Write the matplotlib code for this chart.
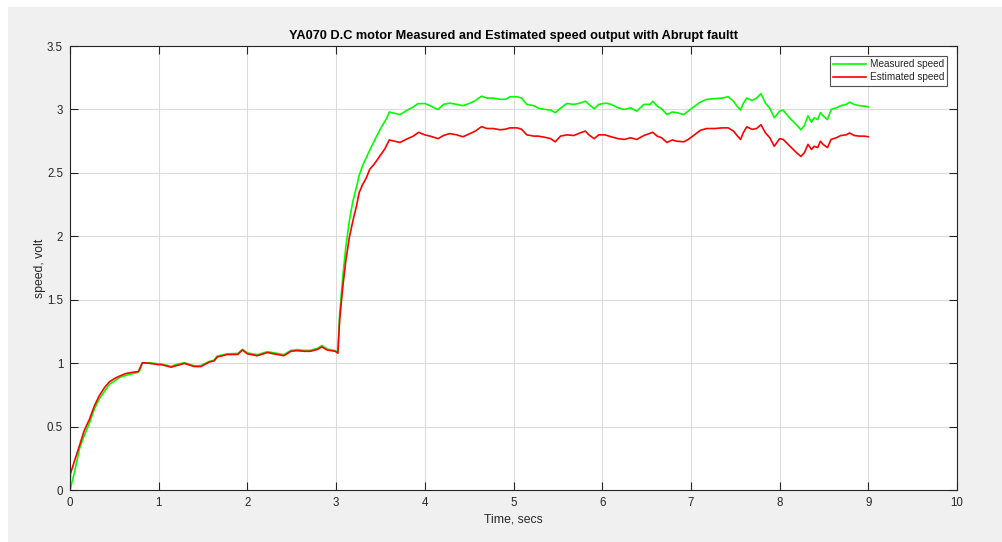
import matplotlib
matplotlib.use("Agg")
import matplotlib.pyplot as plt
from matplotlib.patches import Rectangle

plt.rcParams['font.family'] = ['Liberation Sans', 'DejaVu Sans']

# Measured speed (green)
t_meas = [0.0, 0.05, 0.106, 0.16, 0.22, 0.275, 0.33, 0.39, 0.445, 0.50, 0.56, 0.63,
          0.71, 0.77, 0.79, 0.815, 0.90, 1.0, 1.03, 1.14, 1.19, 1.29, 1.40, 1.475,
          1.57, 1.625, 1.66, 1.775, 1.89, 1.945, 2.0, 2.11, 2.225, 2.34, 2.41, 2.49,
          2.56, 2.64, 2.71, 2.79, 2.84, 2.90, 2.99, 3.02, 3.04, 3.075, 3.11, 3.15,
          3.19, 3.23, 3.26, 3.30, 3.34, 3.40, 3.45, 3.51, 3.57, 3.60, 3.66, 3.72,
          3.79, 3.87, 3.92, 4.0, 4.06, 4.13, 4.15, 4.21, 4.28, 4.36, 4.43, 4.51,
          4.57, 4.64, 4.70, 4.77, 4.85, 4.91, 4.96, 5.04, 5.09, 5.15, 5.23, 5.28,
          5.36, 5.42, 5.47, 5.53, 5.60, 5.68, 5.75, 5.81, 5.85, 5.91, 5.96, 6.04,
          6.10, 6.18, 6.25, 6.32, 6.39, 6.47, 6.54, 6.57, 6.62, 6.67, 6.73, 6.79,
          6.84, 6.92, 6.97, 7.03, 7.11, 7.18, 7.27, 7.35, 7.42, 7.48, 7.52, 7.56,
          7.59, 7.63, 7.69, 7.74, 7.79, 7.84, 7.89, 7.94, 8.0, 8.04, 8.11, 8.19,
          8.24, 8.28, 8.32, 8.36, 8.39, 8.43, 8.46, 8.49, 8.54, 8.58, 8.64, 8.69,
          8.75, 8.79, 8.84, 8.90, 8.955, 9.0]
v_meas = [0.0, 0.14, 0.325, 0.43, 0.53, 0.64, 0.72, 0.78, 0.835, 0.86, 0.89, 0.905,
          0.92, 0.93, 0.95, 1.0, 1.005, 0.995, 0.995, 0.975, 0.99, 1.005, 0.98, 0.982,
          1.015, 1.025, 1.058, 1.075, 1.078, 1.11, 1.082, 1.068, 1.092, 1.078, 1.068, 1.102,
          1.108, 1.102, 1.103, 1.118, 1.14, 1.112, 1.10, 1.09, 1.39, 1.68, 1.92, 2.125,
          2.28, 2.39, 2.48, 2.56, 2.62, 2.71, 2.78, 2.86, 2.93, 2.98, 2.97, 2.96,
          2.99, 3.02, 3.045, 3.047, 3.03, 3.005, 3.0, 3.04, 3.05, 3.04, 3.03, 3.05,
          3.07, 3.105, 3.09, 3.09, 3.08, 3.08, 3.10, 3.10, 3.09, 3.04, 3.03, 3.01,
          3.0, 2.995, 2.975, 3.01, 3.047, 3.04, 3.05, 3.065, 3.04, 3.005, 3.04, 3.05,
          3.04, 3.013, 3.0, 3.013, 2.987, 3.04, 3.04, 3.065, 3.026, 3.005, 2.96, 2.98,
          2.975, 2.96, 2.987, 3.02, 3.06, 3.08, 3.085, 3.09, 3.10, 3.065, 3.026, 2.995,
          3.047, 3.09, 3.07, 3.09, 3.125, 3.05, 3.01, 2.935, 2.987, 2.995, 2.935, 2.88,
          2.84, 2.875, 2.95, 2.90, 2.935, 2.92, 2.975, 2.95, 2.92, 3.0, 3.013, 3.03,
          3.04, 3.058, 3.04, 3.03, 3.026, 3.02]

# Estimated speed (red)
t_est = [0.0, 0.005, 0.05, 0.106, 0.16, 0.22, 0.275, 0.33, 0.39, 0.445, 0.50, 0.56,
         0.63, 0.71, 0.77, 0.79, 0.815, 0.90, 1.0, 1.03, 1.14, 1.19, 1.29, 1.40,
         1.475, 1.57, 1.625, 1.66, 1.775, 1.89, 1.945, 2.0, 2.11, 2.225, 2.34, 2.41,
         2.49, 2.56, 2.64, 2.71, 2.79, 2.84, 2.90, 2.99, 3.02, 3.04, 3.075, 3.11,
         3.15, 3.19, 3.23, 3.26, 3.30, 3.34, 3.38, 3.43, 3.49, 3.55, 3.60, 3.66,
         3.72, 3.79, 3.87, 3.93, 4.0, 4.06, 4.15, 4.21, 4.28, 4.36, 4.43, 4.51,
         4.57, 4.64, 4.70, 4.77, 4.85, 4.91, 4.96, 5.04, 5.09, 5.15, 5.23, 5.28,
         5.36, 5.42, 5.47, 5.53, 5.60, 5.68, 5.75, 5.81, 5.85, 5.91, 5.96, 6.03,
         6.10, 6.18, 6.25, 6.32, 6.39, 6.47, 6.57, 6.62, 6.67, 6.73, 6.79, 6.84,
         6.92, 6.97, 7.03, 7.11, 7.18, 7.27, 7.35, 7.42, 7.48, 7.52, 7.56, 7.59,
         7.63, 7.69, 7.74, 7.79, 7.84, 7.89, 7.94, 8.0, 8.04, 8.11, 8.19, 8.24,
         8.28, 8.32, 8.36, 8.39, 8.43, 8.46, 8.49, 8.54, 8.58, 8.64, 8.69, 8.75,
         8.79, 8.84, 8.90, 8.955, 9.0]
v_est = [0.0, 0.13, 0.23, 0.35, 0.47, 0.56, 0.665, 0.745, 0.81, 0.855, 0.88, 0.90,
         0.92, 0.93, 0.935, 0.965, 1.005, 1.0, 0.99, 0.99, 0.97, 0.98, 1.0, 0.975,
         0.975, 1.01, 1.02, 1.05, 1.07, 1.07, 1.105, 1.075, 1.06, 1.085, 1.07, 1.06,
         1.095, 1.10, 1.095, 1.095, 1.11, 1.13, 1.105, 1.095, 1.08, 1.34, 1.60, 1.81,
         1.995, 2.125, 2.24, 2.345, 2.41, 2.46, 2.53, 2.57, 2.63, 2.69, 2.76, 2.75,
         2.74, 2.765, 2.79, 2.82, 2.80, 2.79, 2.77, 2.795, 2.81, 2.80, 2.785, 2.81,
         2.83, 2.865, 2.85, 2.85, 2.84, 2.845, 2.855, 2.855, 2.845, 2.80, 2.79, 2.79,
         2.78, 2.77, 2.745, 2.79, 2.80, 2.795, 2.815, 2.83, 2.80, 2.77, 2.80, 2.80,
         2.785, 2.77, 2.764, 2.777, 2.764, 2.795, 2.82, 2.79, 2.777, 2.74, 2.76, 2.75,
         2.745, 2.764, 2.795, 2.837, 2.85, 2.85, 2.855, 2.855, 2.83, 2.795, 2.764, 2.816,
         2.864, 2.843, 2.85, 2.88, 2.816, 2.777, 2.71, 2.77, 2.764, 2.716, 2.66, 2.63,
         2.66, 2.725, 2.685, 2.71, 2.70, 2.75, 2.725, 2.70, 2.764, 2.777, 2.795, 2.80,
         2.815, 2.795, 2.79, 2.79, 2.785]

x_ticks = [0, 1, 2, 3, 4, 5, 6, 7, 8, 9, 10]
y_ticks = [0, 0.5, 1, 1.5, 2, 2.5, 3, 3.5]
y_tick_labels = ['0', '0.5', '1', '1.5', '2', '2.5', '3', '3.5']

W, H = 1002, 542
fig = plt.figure(figsize=(W / 100, H / 100), dpi=100, facecolor='white')
# grey window panel
fig.patches.append(Rectangle((8 / W, 0), 1.0, 1 - 7 / H, transform=fig.transFigure,
                             facecolor='#f0f0f0', edgecolor='none', zorder=-10))

ax_l, ax_r, ax_t, ax_b = 70, 957, 46, 490.3
ax = fig.add_axes([ax_l / W, (H - ax_b) / H, (ax_r - ax_l) / W, (ax_b - ax_t) / H])
ax.set_facecolor('white')

ax.plot(t_meas, v_meas, color='#00ff00', lw=1.2, label='Measured speed')
ax.plot(t_est, v_est, color='#ff0000', lw=1.2, label='Estimated speed')

ax.set_xlim(0, 10)
ax.set_ylim(0, 3.5)
ax.set_xticks(x_ticks)
ax.set_yticks(y_ticks)
ax.set_yticklabels(y_tick_labels)
ax.grid(True, color='#dcdcdc', lw=0.8)
ax.set_axisbelow(True)

dark = '#262626'
for s in ax.spines.values():
    s.set_color(dark)
    s.set_linewidth(0.8)
ax.tick_params(direction='in', length=6, width=0.8, color=dark, labelcolor=dark,
               labelsize=8.3, top=True, right=True, pad=5)

ax.set_title('YA070 D.C motor Measured and Estimated speed output with Abrupt faultt',
             fontsize=9.2, fontweight='bold', color='black', pad=5)

ax_w, ax_h = ax_r - ax_l, ax_b - ax_t
ax.set_xlabel('Time, secs', fontsize=8.8, color=dark, va='center')
ax.xaxis.set_label_coords(0.5, -(520 - ax_b) / ax_h)
ax.set_ylabel('speed, volt', fontsize=8.8, color=dark, va='center')
ax.yaxis.set_label_coords(-(ax_l - 40) / ax_w, 0.5)

leg = ax.legend(loc='upper right', fontsize=7.2, frameon=True, fancybox=False,
                borderpad=0.35, handlelength=3.3, handletextpad=0.35, labelspacing=0.3,
                borderaxespad=0.95)
leg.get_frame().set_edgecolor(dark)
leg.get_frame().set_linewidth(0.8)
for txt in leg.get_texts():
    txt.set_color(dark)

fig.savefig('out.png', dpi=100, facecolor=fig.get_facecolor())
